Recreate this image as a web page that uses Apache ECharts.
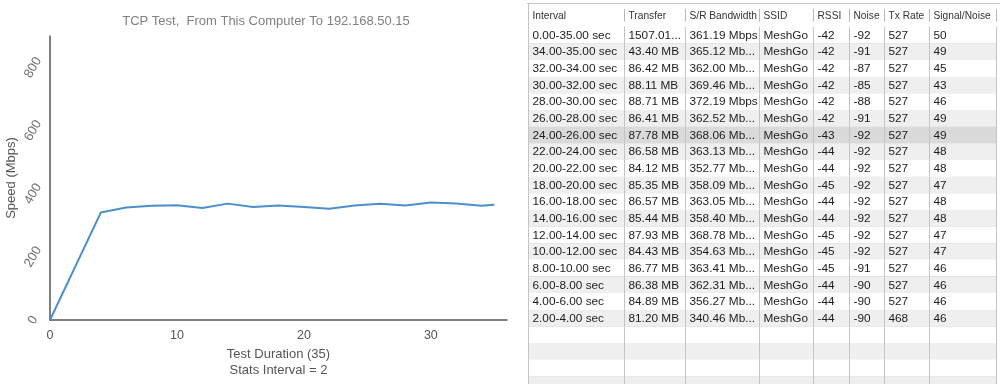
<!DOCTYPE html>
<html><head><meta charset="utf-8">
<script src="https://cdn.jsdelivr.net/npm/echarts@6/dist/echarts.min.js"></script>
<style>html,body{margin:0;padding:0;background:#fff}#c{width:1000px;height:384px}</style>
</head><body><div id="c"></div>
<script>
// ---- chart data ----
const times = [0, 4, 6, 8, 10, 12, 14, 16, 18, 20, 22, 24, 26, 28, 30, 32, 34, 35];
const speeds = [0, 340.46, 356.27, 362.31, 363.41, 354.63, 368.78, 358.40, 363.05, 358.09, 352.77, 363.13, 368.06, 362.52, 372.19, 369.46, 362.00, 365.12];
const titleText = 'TCP Test,  From This Computer To 192.168.50.15';
const xName = 'Test Duration (35)\nStats Interval = 2';
const yName = 'Speed (Mbps)';

// ---- table data ----
const headers = ['Interval', 'Transfer', 'S/R Bandwidth', 'SSID', 'RSSI', 'Noise', 'Tx Rate', 'Signal/Noise'];
const intervals = ['0.00-35.00 sec', '34.00-35.00 sec', '32.00-34.00 sec', '30.00-32.00 sec', '28.00-30.00 sec', '26.00-28.00 sec', '24.00-26.00 sec', '22.00-24.00 sec', '20.00-22.00 sec', '18.00-20.00 sec', '16.00-18.00 sec', '14.00-16.00 sec', '12.00-14.00 sec', '10.00-12.00 sec', '8.00-10.00 sec', '6.00-8.00 sec', '4.00-6.00 sec', '2.00-4.00 sec'];
const transfers = ['1507.01...', '43.40 MB', '86.42 MB', '88.11 MB', '88.71 MB', '86.41 MB', '87.78 MB', '86.58 MB', '84.12 MB', '85.35 MB', '86.57 MB', '85.44 MB', '87.93 MB', '84.43 MB', '86.77 MB', '86.38 MB', '84.89 MB', '81.20 MB'];
const bandwidths = ['361.19 Mbps', '365.12 Mb...', '362.00 Mb...', '369.46 Mb...', '372.19 Mbps', '362.52 Mb...', '368.06 Mb...', '363.13 Mb...', '352.77 Mb...', '358.09 Mb...', '363.05 Mb...', '358.40 Mb...', '368.78 Mb...', '354.63 Mb...', '363.41 Mb...', '362.31 Mb...', '356.27 Mb...', '340.46 Mb...'];
const ssids = ['MeshGo', 'MeshGo', 'MeshGo', 'MeshGo', 'MeshGo', 'MeshGo', 'MeshGo', 'MeshGo', 'MeshGo', 'MeshGo', 'MeshGo', 'MeshGo', 'MeshGo', 'MeshGo', 'MeshGo', 'MeshGo', 'MeshGo', 'MeshGo'];
const rssis = [-42, -42, -42, -42, -42, -42, -43, -44, -44, -45, -44, -44, -45, -45, -45, -44, -44, -44];
const noises = [-92, -91, -87, -85, -88, -91, -92, -92, -92, -92, -92, -92, -92, -92, -91, -90, -90, -90];
const txRates = [527, 527, 527, 527, 527, 527, 527, 527, 527, 527, 527, 527, 527, 527, 527, 527, 527, 468];
const snrs = [50, 49, 45, 43, 46, 49, 49, 48, 48, 47, 48, 48, 47, 47, 46, 46, 46, 46];
const emptyRows = 4;
const selectedRow = 6;

// ---- layout (not data) ----
const colEdges = [0, 96, 157, 231, 285, 321, 356, 401, 468];
const HEADER_H = 1.363;
const ROWS_MAX = 21.46;
const FONT = 'Liberation Sans, Arial, sans-serif';

const columns = [intervals, transfers, bandwidths, ssids, rssis, noises, txRates, snrs];
const nRows = intervals.length + emptyRows;
const tableData = [[0, -1]];
for (let r = 0; r < nRows; r++) tableData.push([0, r]);

function crisp(v) { return Math.round(v) + 0.5; }

function renderRow(params, api) {
  const r = api.value(1);
  const children = [];
  const isHeader = r < 0;
  const yTop = isHeader ? -HEADER_H : r;
  const yBot = isHeader ? 0 : r + 1;
  const tl = api.coord([colEdges[0], yTop]);
  const br = api.coord([colEdges[colEdges.length - 1], yBot]);
  let fill = '#ffffff';
  if (!isHeader) {
    if (r === selectedRow) fill = '#dadada';
    else if (r % 2 === 1) fill = '#efefef';
  }
  children.push({ type: 'rect', shape: { x: tl[0], y: tl[1], width: br[0] - tl[0], height: br[1] - tl[1] }, style: { fill: fill } });
  children.push({ type: 'line', shape: { x1: tl[0], y1: crisp(br[1]), x2: br[0], y2: crisp(br[1]) }, style: { stroke: isHeader ? '#c6c6c6' : '#cfcfcf', lineWidth: 1 } });
  if (isHeader) {
    children.push({ type: 'line', shape: { x1: tl[0] - 1, y1: crisp(tl[1] - 1), x2: 1000, y2: crisp(tl[1] - 1) }, style: { stroke: '#c6c6c6', lineWidth: 1 } });
  }
  for (let e = 0; e < colEdges.length; e++) {
    const x = crisp(api.coord([colEdges[e], 0])[0]);
    let y1 = tl[1], y2 = br[1];
    if (isHeader && e > 0) { y1 = tl[1] + 5; y2 = br[1] - 5; }
    children.push({ type: 'line', shape: { x1: x, y1: y1, x2: x, y2: y2 }, style: { stroke: isHeader && e > 0 ? '#b8b8b8' : '#c4c4c4', lineWidth: 1 } });
  }
  const yMid = (tl[1] + br[1]) / 2;
  for (let c = 0; c < columns.length; c++) {
    let txt;
    if (isHeader) txt = headers[c];
    else if (r < columns[c].length) txt = String(columns[c][r]);
    else continue;
    const x = api.coord([colEdges[c], 0])[0] + 4.5;
    children.push({
      type: 'text',
      style: {
        x: x, y: yMid + 0.5, text: txt,
        fill: isHeader ? '#333333' : '#1c1c1c',
        font: (isHeader ? '10.2px ' : '11.8px ') + FONT,
        textAlign: 'left', textVerticalAlign: 'middle'
      }
    });
  }
  return { type: 'group', children: children };
}

const chart = echarts.init(document.getElementById('c'), null, { renderer: 'canvas' });
chart.setOption({
  animation: false,
  backgroundColor: '#ffffff',
  textStyle: { fontFamily: FONT },
  title: {
    text: titleText, left: 261, top: 10, textAlign: 'center',
    textStyle: { fontSize: 13, fontWeight: 'normal', color: '#808080', fontFamily: FONT }
  },
  grid: [
    { left: 50, right: 493, top: 36, bottom: 64 },
    { left: 528, width: 468, top: 4, height: 380 }
  ],
  xAxis: [
    {
      type: 'value', gridIndex: 0, min: 0, max: 36, interval: 10,
      name: xName, nameLocation: 'middle', nameGap: 24,
      nameTextStyle: { fontSize: 13, color: '#555', lineHeight: 16, fontFamily: FONT },
      axisLine: { lineStyle: { color: '#555', width: 1.5 } },
      axisTick: { show: false }, splitLine: { show: false },
      axisLabel: { fontSize: 12.5, color: '#555', margin: 9, showMaxLabel: false, fontFamily: FONT }
    },
    { type: 'value', gridIndex: 1, min: 0, max: 468, show: false }
  ],
  yAxis: [
    {
      type: 'value', gridIndex: 0, min: 0, max: 900, interval: 200,
      name: yName, nameLocation: 'middle', nameGap: 32,
      nameTextStyle: { fontSize: 13, color: '#555', fontFamily: FONT },
      axisLine: { show: true, lineStyle: { color: '#555', width: 1.5 } },
      axisTick: { show: false }, splitLine: { show: false },
      axisLabel: { fontSize: 13, color: '#707070', rotate: 60, margin: 17, align: 'center', verticalAlign: 'middle', showMaxLabel: false, fontFamily: FONT }
    },
    { type: 'value', gridIndex: 1, min: -HEADER_H, max: ROWS_MAX, inverse: true, show: false }
  ],
  series: [
    {
      type: 'line', xAxisIndex: 0, yAxisIndex: 0,
      data: times.map((t, i) => [t, speeds[i]]),
      showSymbol: false, symbol: 'none',
      lineStyle: { color: '#4b90cc', width: 2 },
      itemStyle: { color: '#4b90cc' }
    },
    {
      type: 'custom', xAxisIndex: 1, yAxisIndex: 1,
      coordinateSystem: 'cartesian2d',
      data: tableData, renderItem: renderRow, silent: true, clip: false
    }
  ]
});
</script>
</body></html>
